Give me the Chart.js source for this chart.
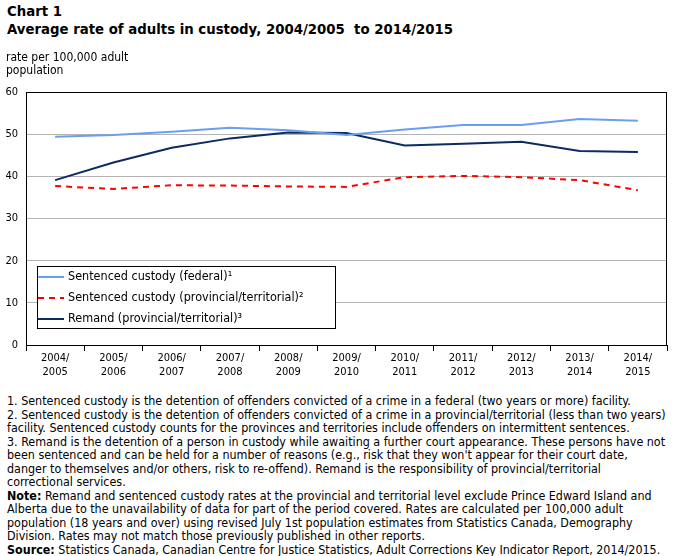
<!DOCTYPE html>
<html>
<head>
<meta charset="utf-8">
<script src="https://cdn.jsdelivr.net/npm/chart.js@4/dist/chart.umd.min.js"></script>
<style>
    body { margin: 0; background: #fff; width: 673px; height: 556px; overflow: hidden; position: relative; font-family: "DejaVu Sans Condensed", "DejaVu Sans", sans-serif; color: #000; }
    .title { position: absolute; left: 7px; top: 3px; font-family: "DejaVu Sans", sans-serif; font-weight: bold; font-size: 13.3px; line-height: 18px; white-space: nowrap; }
    .ylab { position: absolute; left: 6px; top: 51px; font-size: 12px; line-height: 13px; }
    #wrap { position: absolute; left: 0; top: 0; width: 673px; height: 390px; }
    .notes { position: absolute; left: 7px; top: 394px; font-size: 12.4px; line-height: 13.5px; white-space: nowrap; }
</style>
</head>
<body>
<div class="title">Chart 1<br>Average rate of adults in custody, 2004/2005&nbsp; to 2014/2015</div>
<div id="wrap"><canvas id="custodyChart" width="673" height="390"></canvas></div>
<div class="ylab">rate per 100,000 adult<br>population</div>
<div class="notes">
1. Sentenced custody is the detention of offenders convicted of a crime in a federal (two years or more) facility.<br>
2. Sentenced custody is the detention of offenders convicted of a crime in a provincial/territorial (less than two years)<br>
facility. Sentenced custody counts for the provinces and territories include offenders on intermittent sentences.<br>
3. Remand is the detention of a person in custody while awaiting a further court appearance. These persons have not<br>
been sentenced and can be held for a number of reasons (e.g., risk that they won't appear for their court date,<br>
danger to themselves and/or others, risk to re-offend). Remand is the responsibility of provincial/territorial<br>
correctional services.<br>
<b>Note:</b> Remand and sentenced custody rates at the provincial and territorial level exclude Prince Edward Island and<br>
Alberta due to the unavailability of data for part of the period covered. Rates are calculated per 100,000 adult<br>
population (18 years and over) using revised July 1st population estimates from Statistics Canada, Demography<br>
Division. Rates may not match those previously published in other reports.<br>
<b>Source:</b> Statistics Canada, Canadian Centre for Justice Statistics, Adult Corrections Key Indicator Report, 2014/2015.
</div>
<script>
const years = [
    ["2004/", "2005"], ["2005/", "2006"], ["2006/", "2007"], ["2007/", "2008"],
    ["2008/", "2009"], ["2009/", "2010"], ["2010/", "2011"], ["2011/", "2012"],
    ["2012/", "2013"], ["2013/", "2014"], ["2014/", "2015"]
];
const federalSentenced = [49.4, 49.8, 50.6, 51.5, 50.9, 49.8, 51.1, 52.2, 52.2, 53.6, 53.2];
const provincialSentenced = [37.7, 37.0, 37.9, 37.8, 37.6, 37.5, 39.8, 40.1, 39.8, 39.1, 36.7];
const remand = [39.1, 43.3, 46.8, 49.0, 50.4, 50.3, 47.3, 47.7, 48.2, 46.0, 45.8];
const seriesNames = [
    "Sentenced custody (federal)\u00b9",
    "Sentenced custody (provincial/territorial)\u00b2",
    "Remand (provincial/territorial)\u00b3"
];

document.addEventListener("DOMContentLoaded", function () {
    const ctx = document.getElementById("custodyChart").getContext("2d");
    Chart.defaults.font.family = '"DejaVu Sans Condensed", "DejaVu Sans", sans-serif';
    Chart.defaults.color = "#000";

    // frame around the plot + legend box inside it
    const framePlugin = {
        id: "frame",
        afterDraw(chart) {
            const a = chart.chartArea;
            const c = chart.ctx;
            c.save();
            c.strokeStyle = "#000";
            c.lineWidth = 1;
            c.strokeRect(Math.round(a.left) + 0.5, Math.round(a.top) + 0.5, Math.round(a.right - a.left) - 1, Math.round(a.bottom - a.top));

            // legend
            const bx = 37.5, by = 266.5, bw = 298, bh = 62;
            c.fillStyle = "#fff";
            c.fillRect(bx, by, bw, bh);
            c.strokeRect(bx, by, bw, bh);
            c.font = "12.5px " + Chart.defaults.font.family;
            c.textBaseline = "middle";
            chart.data.datasets.forEach((ds, i) => {
                const y = 277 + i * 21;
                c.beginPath();
                c.strokeStyle = ds.borderColor;
                c.lineWidth = 2;
                c.setLineDash(ds.borderDash || []);
                c.moveTo(38, y);
                c.lineTo(64, y);
                c.stroke();
                c.setLineDash([]);
                c.fillStyle = "#000";
                c.fillText(ds.label, 68, y);
            });
            c.restore();
        }
    };

    new Chart(ctx, {
        type: "line",
        data: {
            labels: years,
            datasets: [
                {
                    label: seriesNames[0],
                    data: federalSentenced,
                    borderColor: "#6a9ff0",
                    borderWidth: 2,
                    pointRadius: 0,
                    tension: 0,
                },
                {
                    label: seriesNames[1],
                    data: provincialSentenced,
                    borderColor: "#ff0000",
                    borderWidth: 2,
                    borderDash: [6, 5],
                    pointRadius: 0,
                    tension: 0,
                },
                {
                    label: seriesNames[2],
                    data: remand,
                    borderColor: "#0d2a63",
                    borderWidth: 2,
                    pointRadius: 0,
                    tension: 0,
                },
            ],
        },
        options: {
            responsive: false,
            animation: false,
            layout: { padding: { top: 92, right: 6, left: 0, bottom: 0 } },
            plugins: {
                legend: { display: false },
                tooltip: { enabled: false },
            },
            scales: {
                x: {
                    offset: true,
                    grid: { offset: true, drawOnChartArea: false, tickLength: 6, color: "#000" },
                    border: { color: "#000" },
                    ticks: { font: { size: 11 }, padding: 1, maxRotation: 0, autoSkip: false },
                    afterFit: (scale) => { scale.height = 45; },
                },
                y: {
                    min: 0,
                    max: 60,
                    grid: { color: "#b4b4b4", drawTicks: false },
                    border: { color: "#000" },
                    ticks: { stepSize: 10, font: { size: 11 }, padding: 8 },
                    afterFit: (scale) => { scale.width = 26; },
                },
            },
        },
        plugins: [framePlugin],
    });
});
</script>
</body>
</html>
